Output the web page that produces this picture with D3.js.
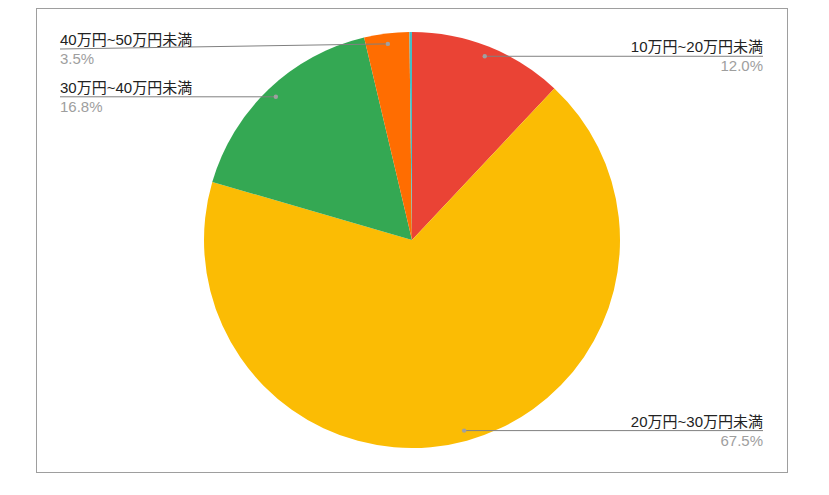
<!DOCTYPE html>
<html>
<head>
<meta charset="utf-8">
<script src="https://cdn.jsdelivr.net/npm/d3@7"></script>
<style>
  body { margin: 0; background: #fff; }
  text { font-family: Arial, "Liberation Sans", "Noto Sans CJK JP", sans-serif; font-size: 15px; }
</style>
</head>
<body>
<script>
// slices in clockwise order from 12 o'clock
var labels = ['10万円~20万円未満', '20万円~30万円未満', '30万円~40万円未満', '40万円~50万円未満', 'その他'];
var values = [12.0, 67.5, 16.8, 3.5, 0.2];
var colors = ['#ea4335', '#fbbc04', '#34a853', '#ff6d01', '#46bdc6'];
var showLabel = [true, true, true, true, false];

var w = 829, h = 495;
var cx = 412, cy = 240, r = 208;

var data = labels.map(function(d, i) {
  return {key: d, value: values[i], color: colors[i], show: showLabel[i]};
});

var svg = d3.select("body").append("svg")
  .attr("width", w)
  .attr("height", h);

// frame
svg.append("rect")
  .attr("x", 36.5).attr("y", 8.5)
  .attr("width", 751).attr("height", 464)
  .attr("fill", "none")
  .attr("stroke", "#9e9e9e")
  .attr("stroke-width", 1);

var pie = d3.pie()
  .sort(null)
  .value(function(d) { return d.value; });

var arc = d3.arc().innerRadius(0).outerRadius(r);
var dotArc = d3.arc().innerRadius(r * 0.95).outerRadius(r * 0.95);

var arcs = pie(data);
var total = d3.sum(values);

var g = svg.append("g")
  .attr("transform", "translate(" + cx + "," + cy + ")");

g.selectAll("path.slice")
  .data(arcs)
  .enter()
  .append("path")
    .attr("class", "slice")
    .attr("d", arc)
    .attr("fill", function(d) { return d.data.color; });

// labels with leader lines
var labelArcs = arcs.filter(function(d) { return d.data.show; });

labelArcs.forEach(function(d) {
  var p = dotArc.centroid(d);
  var px = cx + p[0], py = cy + p[1];
  var right = p[0] > 0;
  var lineY = Math.max(py, 49);
  var tx = right ? 763 : 60;

  svg.append("line")
    .attr("x1", px).attr("y1", py)
    .attr("x2", tx).attr("y2", lineY)
    .attr("stroke", "#808080")
    .attr("stroke-width", 1);

  svg.append("circle")
    .attr("cx", px).attr("cy", py)
    .attr("r", 2.2)
    .attr("fill", "#a0a0a0");

  svg.append("text")
    .attr("x", tx).attr("y", lineY - 4)
    .attr("text-anchor", right ? "end" : "start")
    .attr("fill", "#222")
    .text(d.data.key);

  svg.append("text")
    .attr("x", tx).attr("y", lineY + 15)
    .attr("text-anchor", right ? "end" : "start")
    .attr("fill", "#9e9e9e")
    .text(d3.format(".1f")(d.data.value / total * 100) + "%");
});
</script>
</body>
</html>
